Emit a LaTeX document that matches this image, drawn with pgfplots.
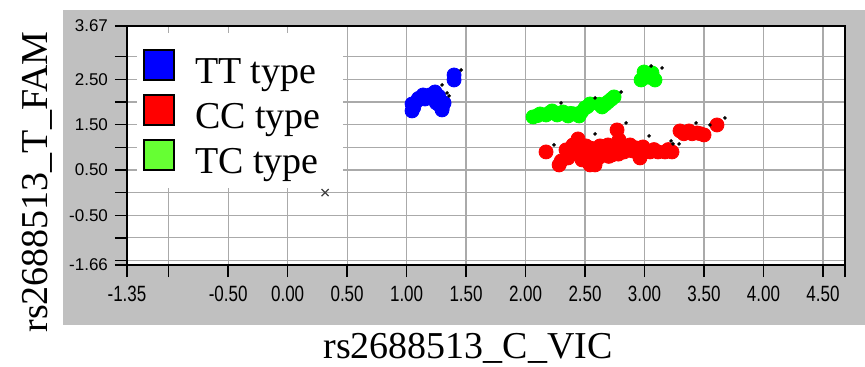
\documentclass[border=0pt]{standalone}
\usepackage{fontspec}
\setmainfont{Liberation Serif}
\newfontfamily\ticksf{Liberation Sans}
\usepackage{pgfplots}
\pgfplotsset{compat=1.18}
\definecolor{panelgray}{RGB}{192,192,192}
\definecolor{gridgray}{RGB}{170,170,170}
\definecolor{ttblue}{RGB}{0,0,255}
\definecolor{ccred}{RGB}{255,0,0}
\definecolor{tcgreen}{RGB}{0,255,0}
\definecolor{tclegend}{RGB}{102,255,51}
\begin{document}
\begin{tikzpicture}
\useasboundingbox (-63.5pt,-50.5pt) rectangle (369pt,132.5pt);
\fill[panelgray] (-32pt,-30pt) rectangle (369pt,127.5pt);
\begin{axis}[
  at={(0pt,0pt)}, anchor=south west,
  width=359pt, height=119.5pt, scale only axis,
  xmin=-1.35, xmax=4.685, ymin=-1.60, ymax=3.68,
  axis background/.style={fill=white},
  xtick={-1.35,-1,-0.5,0,0.5,1,1.5,2,2.5,3,3.5,4,4.5,4.685},
  xticklabels={-1.35,,-0.50,0.00,0.50,1.00,1.50,2.00,2.50,3.00,3.50,4.00,4.50,},
  ytick={-1.60,-1.5,-1,-0.5,0,0.5,1,1.5,2,2.5,3,3.68},
  yticklabels={-1.66,,,-0.50,,0.50,,1.50,,2.50,,3.67},
  tick pos=left, tick align=outside, major tick length=6pt,
  grid=major, major grid style={gridgray, line width=0.6pt},
  axis line style={black, line width=0.9pt},
  tick style={black, line width=0.7pt},
  ticklabel style={font=\ticksf\fontsize{8.5}{10}\selectfont},
  xticklabel style={anchor=north, yscale=1.3},
  yticklabel style={anchor=east},
  xlabel={rs2688513\_C\_VIC}, ylabel={rs2688513\_T\_FAM},
  label style={font=\fontsize{19}{22}\selectfont},
  xlabel style={at={(axis description cs:0.4749,-0.3900)}, anchor=base},
  ylabel style={at={(axis description cs:-0.1114,0.3473)}, anchor=base},
  legend style={at={(axis description cs:0.01393,0.9707)}, anchor=north west,
    draw=none, fill=white, font=\fontsize{19}{22}\selectfont,
    inner xsep=3pt, inner ysep=5pt, row sep=0pt, column sep=10pt,
    nodes={inner sep=0pt, text height=20pt, text depth=2.5pt}},
  legend cell align=left,
]
\addlegendimage{legend image code/.code={\draw[black,line width=0.8pt,fill=ttblue] (0pt,-7pt) rectangle (15pt,8pt);}}
\addlegendentry{\makebox[71pt][l]{TT type}}
\addlegendimage{legend image code/.code={\draw[black,line width=0.8pt,fill=ccred] (0pt,-7pt) rectangle (15pt,8pt);}}
\addlegendentry{\makebox[71pt][l]{CC type}}
\addlegendimage{legend image code/.code={\draw[black,line width=0.8pt,fill=tclegend] (0pt,-7pt) rectangle (15pt,8pt);}}
\addlegendentry{\makebox[71pt][l]{TC type}}

% TT type
\addplot[only marks, mark=*, mark size=3.5pt, color=ttblue, mark options={solid, draw=ttblue, fill=ttblue}, forget plot] coordinates {
(1.046,1.958) (1.046,1.804) (1.139,2.157) (1.155,2.068) (1.088,2.024)
(1.239,2.223) (1.256,2.046) (1.282,1.914) (1.298,1.826) (1.315,1.980)
(1.399,2.598) (1.399,2.488)
(1.06,1.88) (1.10,2.08) (1.20,2.16) (1.27,2.13) (1.30,1.88) (1.25,1.98)
};
% TC type
\addplot[only marks, mark=*, mark size=3.5pt, color=tcgreen, mark options={solid, draw=tcgreen, fill=tcgreen}, forget plot] coordinates {
(2.063,1.671) (2.122,1.737) (2.172,1.715) (2.223,1.804) (2.265,1.715)
(2.315,1.781) (2.357,1.693) (2.408,1.737) (2.450,1.693) (2.500,1.870)
(2.542,1.958) (2.643,1.892) (2.693,2.002) (2.744,2.113)
(2.971,2.488) (2.996,2.664) (3.063,2.642) (3.088,2.488)
(2.10,1.70) (2.20,1.76) (2.28,1.75) (2.38,1.75) (2.47,1.78) (2.52,1.90)
(2.62,1.95) (2.67,1.95) (2.72,2.06) (3.03,2.55) (3.05,2.58)
};
% CC type
\addplot[only marks, mark=*, mark size=3.5pt, color=ccred, mark options={solid, draw=ccred, fill=ccred}, forget plot] coordinates {
(2.172,0.898) (2.282,0.611) (2.340,0.943) (2.357,0.766) (2.399,1.053)
(2.433,0.876) (2.475,0.722) (2.508,1.031) (2.542,0.854) (2.592,0.722)
(2.626,1.031) (2.651,0.876) (2.693,1.053) (2.727,0.832) (2.769,1.384)
(2.786,1.163) (2.828,0.898) (2.878,1.053) (2.929,0.987) (2.987,1.009)
(3.046,0.898) (3.113,0.898) (3.172,0.898) (3.231,0.898) (3.298,1.362)
(3.374,1.362) (3.441,1.318) (3.500,1.274) (3.609,1.494)
(2.542,0.611) (2.584,0.611) (2.441,1.185) (2.962,0.766)
(2.30,0.70) (2.39,0.90) (2.47,0.95) (2.55,0.98) (2.60,0.85) (2.66,0.95)
(2.70,0.95) (2.75,0.92) (2.80,1.00) (2.85,0.95) (2.90,0.92) (2.95,0.92)
(3.00,0.95) (3.08,0.95) (3.20,0.95) (3.33,1.30) (3.40,1.30) (3.47,1.30)
(2.50,0.78) (2.62,0.78) (2.70,0.80) (2.78,0.85)
};
% small black dots
\addplot[only marks, mark=*, mark size=0.7pt, black, forget plot] coordinates {
(1.458,2.709) (1.298,2.378) (1.340,2.201) (1.357,2.135)
(2.298,1.980) (2.584,2.091) (2.803,2.223) (3.055,2.797) (3.147,2.753)
(2.239,1.053) (2.584,1.296) (2.845,1.539) (3.038,1.252) (3.223,1.141)
(3.239,1.075) (3.290,1.075) (3.433,1.539) (3.550,1.494) (3.676,1.649)
};
% undetermined
\addplot[only marks, mark=x, mark size=2.5pt, gray!50!black, line width=0.6pt, forget plot] coordinates {(0.315,0.0)};
\end{axis}
\end{tikzpicture}
\end{document}
